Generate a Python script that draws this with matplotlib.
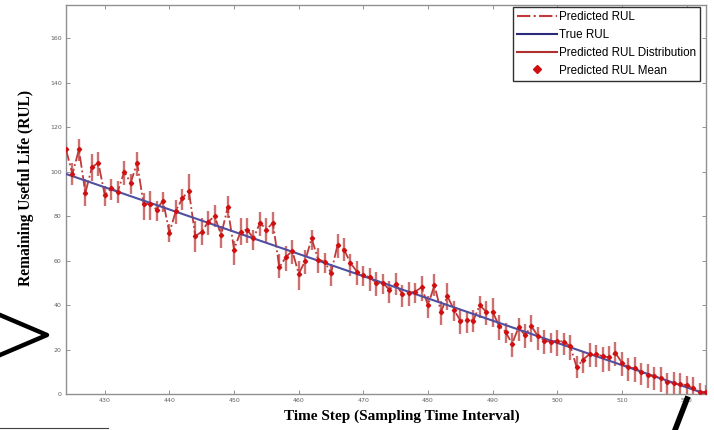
import numpy as np
import matplotlib
matplotlib.use('Agg')
import matplotlib.pyplot as plt
from matplotlib.lines import Line2D

# time steps and RUL values
t = np.arange(424, 524)
true_rul = 523 - t
rul_mean = [110, 99, 110, 90.5, 102, 104, 89.5, 92.5, 91, 100,
            95, 104, 85.5, 85.5, 83, 87, 72.5, 82.5, 88, 91.5,
            71, 73, 77.5, 80, 71.5, 84, 65, 73, 74, 70,
            77, 74, 77, 57, 61.5, 64.5, 54, 60, 70, 60.5,
            59.5, 54.5, 67, 65, 59, 55, 53.5, 52.5, 50, 50,
            47, 49.5, 45, 45.5, 46, 48, 40, 49, 37, 44,
            38, 33, 33.5, 33, 40, 37, 37, 30.5, 28, 22.5,
            30, 26.5, 30.5, 26, 24, 23.5, 24, 23.5, 21.5, 12,
            15.5, 18, 18, 17, 16.5, 18.5, 14, 12, 11.5, 10,
            8.5, 8, 7, 5.5, 5, 4.5, 4, 2.5, 1, 1]
err_hi = [4, 5, 4.5, 6, 6, 5, 4, 4, 5, 5,
          4, 5, 5, 6, 4, 4, 4, 5, 4, 7.5,
          7, 6, 5, 5, 4, 5, 4, 6, 5, 4,
          5, 5, 5, 6, 5, 5, 6, 5, 4, 5,
          4, 4, 5, 5, 4, 5, 4, 4, 5, 4,
          4, 5, 4, 5, 4, 5, 4, 5, 5, 6,
          4, 5, 4, 5, 4, 5, 6, 5, 4, 5,
          4, 5, 5, 4, 5, 4, 5, 4, 5, 5,
          4, 5, 4, 4, 5, 5, 5, 4, 5, 4,
          5, 4, 5, 4, 5, 5, 4, 5, 4, 3]
err_lo = [5, 5, 5, 6, 6, 6, 5, 5, 5, 6,
          5, 6, 7, 7, 5, 5, 4, 6, 5, 4,
          7, 6, 6, 5, 6, 5, 7, 6, 6, 5,
          6, 6, 5, 5, 6, 6, 7, 6, 5, 6,
          5, 6, 6, 5, 6, 6, 5, 6, 6, 5,
          6, 5, 6, 6, 5, 6, 6, 5, 6, 6,
          5, 6, 6, 5, 6, 6, 7, 6, 5, 6,
          6, 6, 7, 6, 6, 5, 7, 6, 6, 5,
          6, 6, 6, 7, 6, 6, 6, 6, 6, 6,
          6, 6, 6, 6, 6, 6, 6, 6, 5, 4]

xticks = [430, 440, 450, 460, 470, 480, 490, 500, 510, 520]
yticks = [0, 20, 40, 60, 80, 100, 120, 140, 160]

fig = plt.figure(figsize=(7.14, 4.30), dpi=100)
ax = fig.add_axes([66/714, 36/430, 640/714, 389/430])

ax.errorbar(t, rul_mean, yerr=[err_lo, err_hi], fmt='none', ecolor='#c86060',
            elinewidth=1.7, capsize=0, alpha=0.9, zorder=2)
ax.plot(t, rul_mean, '-.', color='#c03a3a', lw=1.3, zorder=3)
ax.plot(t, true_rul, '-', color='#5050a0', lw=1.5, zorder=4)
ax.plot(t, rul_mean, 'D', color='#d01010', ms=2.2, zorder=5)

ax.set_xlim(424, 523)
ax.set_ylim(0, 175)
ax.set_xticks(xticks)
ax.set_yticks(yticks)
ax.tick_params(direction='in', length=3, width=0.6, color='#808080',
               labelsize=4.5, labelcolor='#606060', top=True, right=True,
               labeltop=False, labelright=False, pad=3)
for s in ax.spines.values():
    s.set_color('#909090')
    s.set_linewidth(1.0)

ax.set_ylabel('Remaining Useful Life (RUL)', family='Liberation Serif',
              fontweight='bold', fontsize=11.2)
ax.yaxis.set_label_coords(-0.05, 0.53)
ax.set_xlabel('Time Step (Sampling Time Interval)', family='Liberation Serif',
              fontweight='bold', fontsize=11)
ax.xaxis.set_label_coords(0.525, -0.04)

handles = [Line2D([], [], ls='-.', color='#c03a3a', lw=1.5),
           Line2D([], [], ls='-', color='#2a2a7a', lw=1.5),
           Line2D([], [], ls='-', color='#b03030', lw=1.5),
           Line2D([], [], ls='none', marker='D', color='#d01010', ms=4)]
labels = ['Predicted RUL', 'True RUL', 'Predicted RUL Distribution', 'Predicted RUL Mean']
leg = ax.legend(handles, labels, loc='upper right', bbox_to_anchor=(0.991, 0.995),
                borderaxespad=0, handlelength=3.4, handletextpad=0.2,
                labelspacing=0.5, borderpad=0.35, fancybox=False, framealpha=1,
                prop={'family': 'Liberation Sans', 'size': 8.4})
leg.get_frame().set_edgecolor('#303030')
leg.get_frame().set_linewidth(1.0)

# leftover annotation strokes visible in the picture
def px(x, y):
    return x / 714, 1 - y / 430

xs, ys = zip(px(0, 315), px(47, 335), px(0, 355))
fig.add_artist(Line2D(xs, ys, color='black', lw=3.2, transform=fig.transFigure))
xs, ys = zip(px(0, 428), px(108, 428))
fig.add_artist(Line2D(xs, ys, color='#404040', lw=0.8, transform=fig.transFigure))
xs, ys = zip(px(687, 399), px(675, 430))
fig.add_artist(Line2D(xs, ys, color='black', lw=4, transform=fig.transFigure))

fig.savefig('out.png', dpi=100)
